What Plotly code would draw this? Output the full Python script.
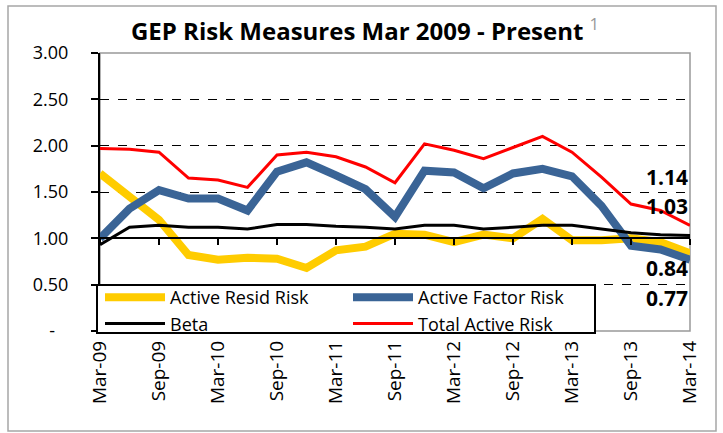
import plotly.graph_objects as go

quarters = ["Mar-09", "Jun-09", "Sep-09", "Dec-09", "Mar-10", "Jun-10", "Sep-10", "Dec-10",
            "Mar-11", "Jun-11", "Sep-11", "Dec-11", "Mar-12", "Jun-12", "Sep-12", "Dec-12",
            "Mar-13", "Jun-13", "Sep-13", "Dec-13", "Mar-14"]
tick_labels = quarters[::2]

active_resid = [1.70, 1.45, 1.20, 0.82, 0.77, 0.79, 0.78, 0.68, 0.87, 0.91, 1.05,
                1.04, 0.96, 1.04, 1.00, 1.21, 0.98, 0.98, 1.00, 0.96, 0.84]
active_factor = [1.00, 1.32, 1.52, 1.43, 1.43, 1.30, 1.72, 1.82, 1.68, 1.53, 1.23,
                 1.73, 1.71, 1.54, 1.70, 1.75, 1.67, 1.35, 0.92, 0.88, 0.77]
beta = [0.93, 1.12, 1.14, 1.12, 1.12, 1.10, 1.15, 1.15, 1.13, 1.12, 1.10,
        1.14, 1.14, 1.10, 1.12, 1.14, 1.14, 1.10, 1.06, 1.04, 1.03]
total_active = [1.97, 1.96, 1.93, 1.65, 1.63, 1.55, 1.90, 1.93, 1.88, 1.77, 1.60,
                2.02, 1.95, 1.86, 1.98, 2.10, 1.93, 1.66, 1.37, 1.30, 1.14]

y_ticks = [0, 0.5, 1.0, 1.5, 2.0, 2.5, 3.0]
y_ticktext = ["-\u2007\u2009", "0.50", "1.00", "1.50", "2.00", "2.50", "3.00"]

FONT = "'Open Sans', Lato, sans-serif"
W, H = 723, 433
L, R, T, B = 100, 33, 53, 102
pw, ph = W - L - R, H - T - B

idx = list(range(len(quarters)))

fig = go.Figure()
fig.add_trace(go.Scatter(x=quarters, y=active_resid, name="Active Resid Risk", mode="lines",
                         line=dict(color="#FFCC00", width=8)))
fig.add_trace(go.Scatter(x=quarters, y=active_factor, name="Active Factor Risk", mode="lines",
                         line=dict(color="#3A6496", width=8)))
fig.add_trace(go.Scatter(x=quarters, y=beta, name="Beta", mode="lines",
                         line=dict(color="#000000", width=3)))
fig.add_trace(go.Scatter(x=idx, y=total_active, name="Total Active Risk", mode="lines",
                         line=dict(color="#FF0000", width=3), xaxis="x2"))

def px2paper_x(p):
    return (p - L) / pw

def px2paper_y(p):
    return (H - B - p) / ph

fig.update_layout(
    width=W, height=H,
    margin=dict(l=L, r=R, t=T, b=B, autoexpand=False),
    paper_bgcolor="white", plot_bgcolor="white",
    font=dict(family=FONT, color="black", size=18),
    title=dict(text="<b>GEP Risk Measures Mar 2009 - Present</b> <sup><span style='color:#999999'>1</span></sup>",
               x=0.505, xanchor="center", xref="container",
               y=1 - 32 / H, yanchor="middle", yref="container",
               font=dict(size=24, family=FONT, color="black")),
    xaxis=dict(type="category", range=[0, len(quarters) - 1], tickmode="array",
               tickvals=tick_labels, ticktext=tick_labels, tickangle=-90,
               tickfont=dict(size=19), showgrid=False, showline=False, ticks="",
               ticklabelstandoff=5, zeroline=False, automargin=False),
    xaxis2=dict(overlaying="x", anchor="free", position=1 / 3, range=[0, len(quarters) - 1],
                tickmode="array", tickvals=idx[::2], showticklabels=False,
                showline=True, linecolor="black", linewidth=2,
                ticks="outside", ticklen=6, tickwidth=2, tickcolor="black",
                showgrid=False, zeroline=False),
    yaxis=dict(range=[0, 3], tickmode="array", tickvals=y_ticks, ticktext=y_ticktext,
               showgrid=True, gridcolor="black", griddash="dash", gridwidth=1,
               showline=True, linecolor="black", linewidth=2,
               ticks="outside", ticklen=7, tickwidth=2, tickcolor="black",
               ticklabelstandoff=19, zeroline=False, tickfont=dict(size=18), automargin=False),
    legend=dict(orientation="h", x=0, xanchor="left",
                y=px2paper_y(279), yanchor="top",
                bgcolor="rgba(0,0,0,0)", borderwidth=0,
                font=dict(size=18, family=FONT), itemwidth=60,
                entrywidth=173, entrywidthmode="pixels", tracegroupgap=0),
    showlegend=True,
)

# plot area border and outer chart border
fig.add_shape(type="rect", xref="paper", yref="paper", x0=0, x1=1, y0=0, y1=1,
              line=dict(color="#999999", width=1.5), layer="below")
fig.add_shape(type="rect", xref="paper", yref="paper",
              x0=px2paper_x(8), x1=px2paper_x(716), y0=px2paper_y(431), y1=px2paper_y(6),
              line=dict(color="#A6A6A6", width=1.5), layer="below")
# legend box
fig.add_shape(type="rect", xref="paper", yref="paper",
              x0=px2paper_x(97), x1=px2paper_x(595), y0=px2paper_y(333), y1=px2paper_y(285),
              line=dict(color="black", width=2), fillcolor="white", layer="above")

# end-value labels
labels = [(total_active[-1], 1.665), (beta[-1], 1.35), (active_resid[-1], 0.68), (active_factor[-1], 0.36)]
for val, ypos in labels:
    fig.add_annotation(x=len(quarters) - 1, y=ypos, xref="x2", yref="y",
                       text=f"<b>{val:.2f}</b>", showarrow=False, xanchor="right", yanchor="middle",
                       font=dict(size=21, family=FONT, color="black"))

fig.write_html("out.html", config={"displayModeBar": False},
               post_script="document.body.style.margin='0';")
